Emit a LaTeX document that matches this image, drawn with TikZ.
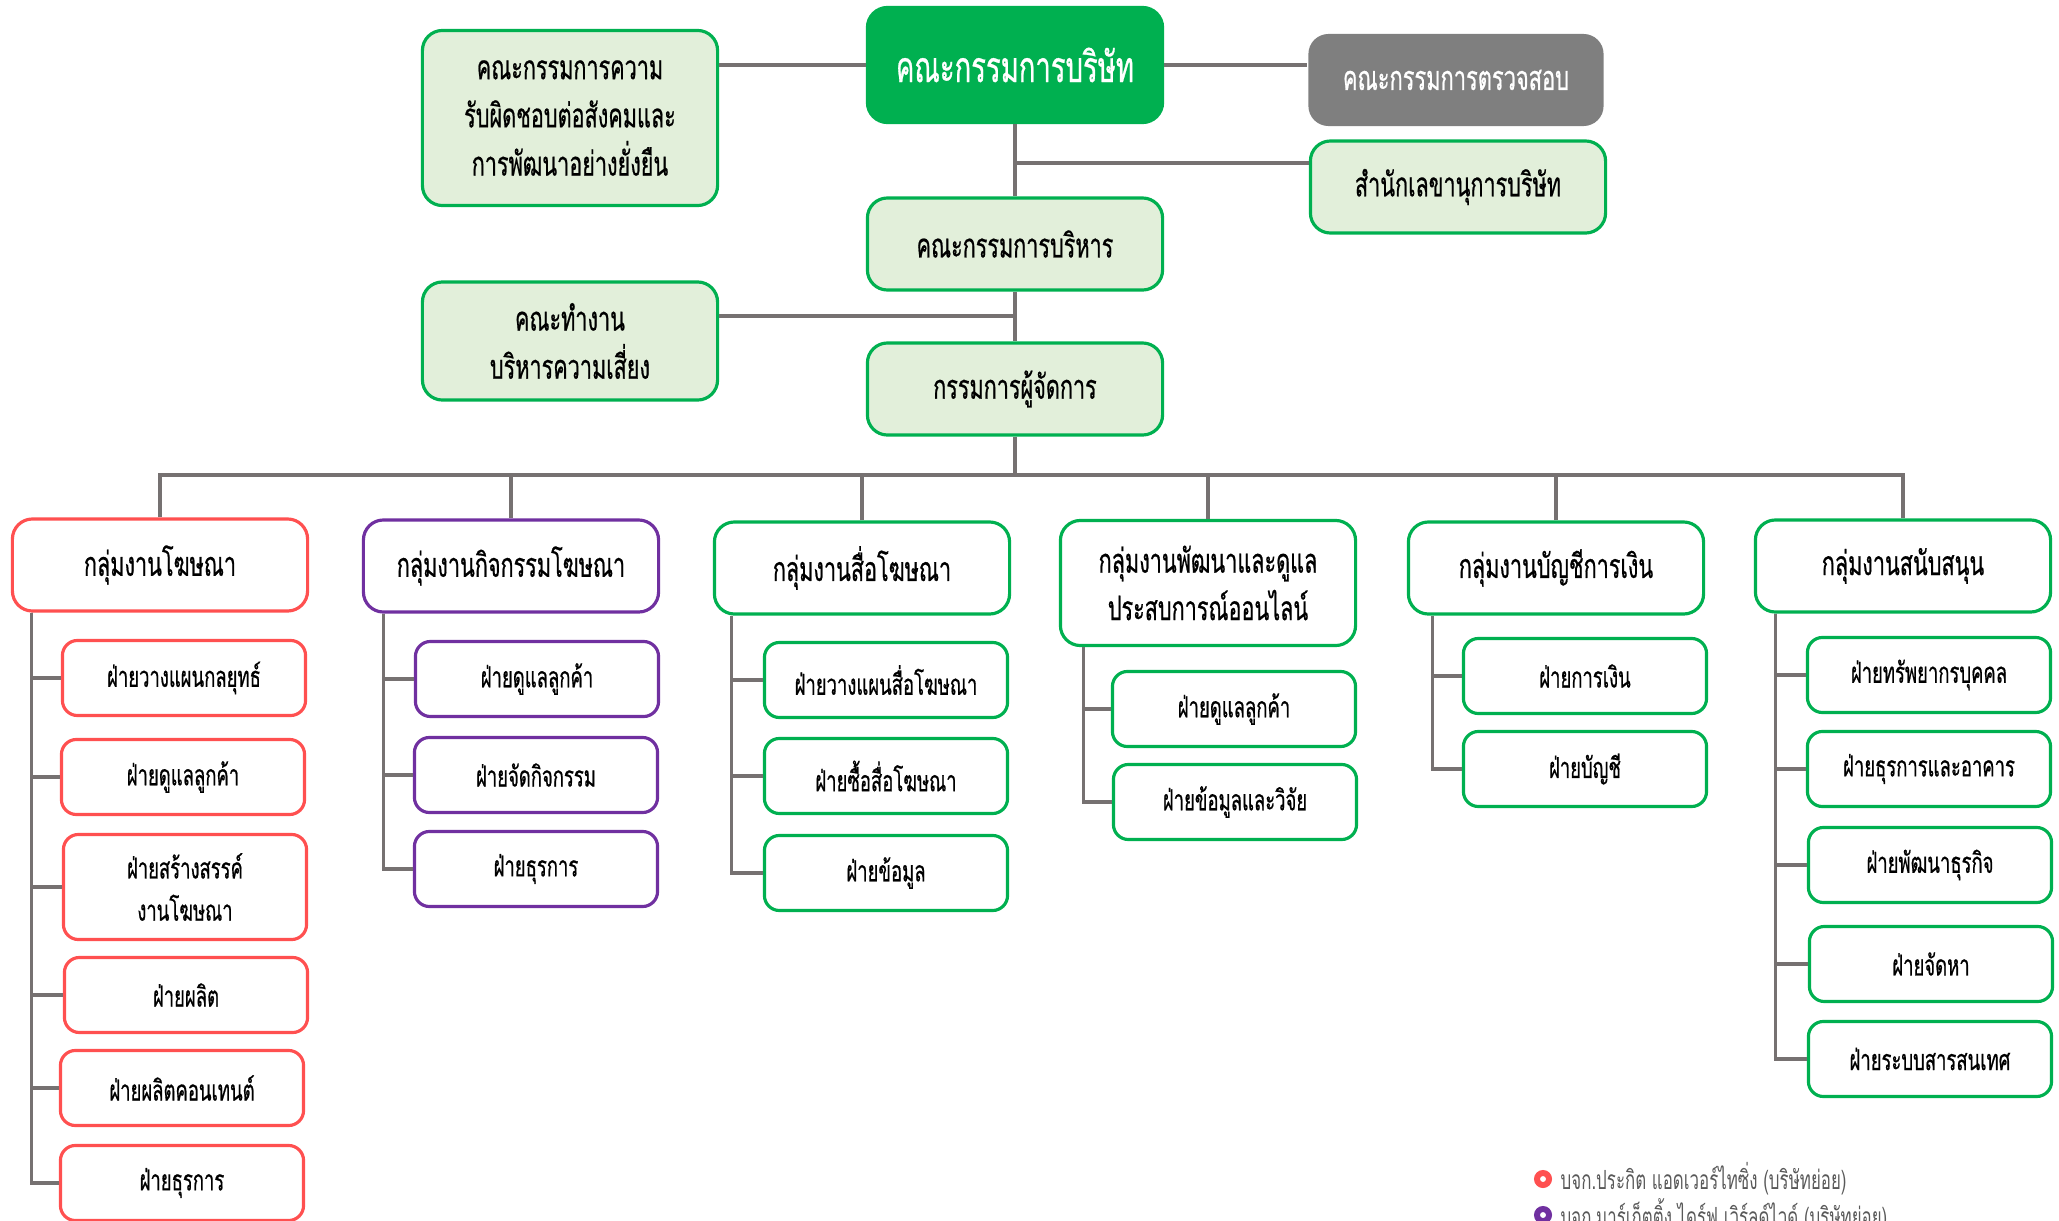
\documentclass[tikz,border=0pt]{standalone}
\usepackage{fontspec}
\newfontfamily\thaifont[Script=Thai,FakeStretch=0.64,FakeBold=0.6]{Loma}
\newfontfamily\thailight[Script=Thai,FakeStretch=0.64]{Loma}
\usetikzlibrary{positioning}
\definecolor{kgreen}{HTML}{00B050}
\definecolor{kpale}{HTML}{E2EFDA}
\definecolor{kred}{HTML}{FF5050}
\definecolor{kpurple}{HTML}{7030A0}
\definecolor{kgray}{HTML}{7F7F7F}
\definecolor{kline}{HTML}{767171}
\definecolor{ktext}{HTML}{595959}

\begin{document}
\begin{tikzpicture}[x=0.01cm,y=-0.01cm,
      topbox/.style={rectangle, rounded corners=0.2cm, draw=kgreen, fill=kpale, line width=0.9pt, minimum width=2.95cm, minimum height=0.92cm, align=center, font=\thaifont\fontsize{9.6}{13.7}\selectfont},
      group/.style={rectangle, rounded corners=0.2cm, draw=kgreen, fill=white, line width=0.9pt, minimum width=2.95cm, minimum height=0.92cm, align=center, font=\thaifont\fontsize{9.6}{13.5}\selectfont},
      dept/.style={rectangle, rounded corners=0.15cm, draw=kgreen, fill=white, line width=0.9pt, minimum width=2.43cm, minimum height=0.75cm, align=center, font=\thaifont\fontsize{8.2}{12}\selectfont},
      conn/.style={draw=kline, line width=0.9pt}]

\useasboundingbox (0,0) rectangle (2059,1221);

\node[topbox, fill=kgreen, minimum height=1.15cm, text=white, font=\thaifont\fontsize{12.2}{15}\selectfont] (board) at (1015,65) {คณะกรรมการบริษัท};
\node[topbox, minimum height=1.75cm] (csr) at (570,118) {คณะกรรมการความ\\รับผิดชอบต่อสังคมและ\\การพัฒนาอย่างยั่งยืน};
\node[topbox, draw=none, fill=kgray, text=white, font=\thaifont\fontsize{9.7}{13}\selectfont] (audit) at (1456,80) {คณะกรรมการตรวจสอบ};
\node[topbox] (secr) at (1458,187) {สำนักเลขานุการบริษัท};
\node[topbox] (exec) at (1015,244) {คณะกรรมการบริหาร};
\node[topbox, minimum height=1.18cm] (risk) at (570,341) {คณะทำงาน\\บริหารความเสี่ยง};
\node[topbox] (md) at (1015,389) {กรรมการผู้จัดการ};

\draw[conn] (board.west) -- (board.west -| csr.east);
\draw[conn] (board.east) -- (board.east -| audit.west);
\draw[conn] (board.south) -- (exec.north);
\draw[conn] (exec.south) -- (md.north);
\coordinate (secrjoin) at ([yshift=0.24cm]secr.west);
\draw[conn] (secrjoin) -- (secrjoin -| board.south);
\coordinate (riskjoin) at ([yshift=0.25cm]risk.east);
\draw[conn] (riskjoin) -- (riskjoin -| md.north);

\coordinate (bus) at (1015,475);
\draw[conn] (md.south) -- (bus);

\node[group, draw=kred] (g1) at (160,565) {กลุ่มงานโฆษณา};
\node[group, draw=kpurple] (g2) at (511,566) {กลุ่มงานกิจกรรมโฆษณา};
\node[group] (g3) at (862,568) {กลุ่มงานสื่อโฆษณา};
\node[group, minimum height=1.25cm] (g4) at (1208,583) {กลุ่มงานพัฒนาและดูแล\\ประสบการณ์ออนไลน์};
\node[group] (g5) at (1556,568) {กลุ่มงานบัญชีการเงิน};
\node[group] (g6) at (1903,566) {กลุ่มงานสนับสนุน};

\foreach \g in {g1,g2,g3,g4,g5,g6}
  \draw[conn, line width=1.3pt] (\g.north) |- (bus);

\node[dept, draw=kred] (s11) at (184,678) {ฝ่ายวางแผนกลยุทธ์};
\node[dept, draw=kred] (s12) at (183,777) {ฝ่ายดูแลลูกค้า};
\node[dept, draw=kred, minimum height=1.05cm] (s13) at (185,887) {ฝ่ายสร้างสรรค์\\งานโฆษณา};
\node[dept, draw=kred] (s14) at (186,995) {ฝ่ายผลิต};
\node[dept, draw=kred] (s15) at (182,1088) {ฝ่ายผลิตคอนเทนต์};
\node[dept, draw=kred] (s16) at (182,1183) {ฝ่ายธุรการ};

\node[dept, draw=kpurple] (s21) at (537,679) {ฝ่ายดูแลลูกค้า};
\node[dept, draw=kpurple] (s22) at (536,775) {ฝ่ายจัดกิจกรรม};
\node[dept, draw=kpurple] (s23) at (536,869) {ฝ่ายธุรการ};

\node[dept] (s31) at (886,680) {ฝ่ายวางแผนสื่อโฆษณา};
\node[dept] (s32) at (886,776) {ฝ่ายซื้อสื่อโฆษณา};
\node[dept] (s33) at (886,873) {ฝ่ายข้อมูล};

\node[dept] (s41) at (1234,709) {ฝ่ายดูแลลูกค้า};
\node[dept] (s42) at (1235,802) {ฝ่ายข้อมูลและวิจัย};

\node[dept] (s51) at (1585,676) {ฝ่ายการเงิน};
\node[dept] (s52) at (1585,769) {ฝ่ายบัญชี};

\node[dept] (s61) at (1929,675) {ฝ่ายทรัพยากรบุคคล};
\node[dept] (s62) at (1929,769) {ฝ่ายธุรการและอาคาร};
\node[dept] (s63) at (1930,865) {ฝ่ายพัฒนาธุรกิจ};
\node[dept] (s64) at (1931,964) {ฝ่ายจัดหา};
\node[dept] (s65) at (1930,1059) {ฝ่ายระบบสารสนเทศ};

\coordinate (t1) at ([xshift=0.21cm]g1.south west);
\coordinate (t2) at ([xshift=0.22cm]g2.south west);
\coordinate (t3) at ([xshift=0.19cm]g3.south west);
\coordinate (t4) at ([xshift=0.25cm]g4.south west);
\coordinate (t5) at ([xshift=0.26cm]g5.south west);
\coordinate (t6) at ([xshift=0.22cm]g6.south west);
\foreach \s in {s11,s12,s13,s14,s15,s16}
  \draw[conn] (t1) |- (\s.west);
\foreach \s in {s21,s22,s23}
  \draw[conn] (t2) |- (\s.west);
\foreach \s in {s31,s32,s33}
  \draw[conn] (t3) |- (\s.west);
\foreach \s in {s41,s42}
  \draw[conn] (t4) |- (\s.west);
\foreach \s in {s51,s52}
  \draw[conn] (t5) |- (\s.west);
\foreach \s in {s61,s62,s63,s64,s65}
  \draw[conn] (t6) |- (\s.west);

\node[circle, draw=kred, fill=white, line width=1.7pt, minimum size=0.12cm, inner sep=0pt] (dot1) at (1543,1179) {};
\node[right=0.08cm of dot1, inner sep=0pt, text=ktext, font=\thailight\fontsize{7.5}{10}\selectfont] (leg1) {บจก.ประกิต แอดเวอร์ไทซิ่ง (บริษัทย่อย)};
\node[circle, draw=kpurple, fill=white, line width=1.7pt, minimum size=0.12cm, inner sep=0pt] (dot2) at (1543,1215) {};
\node[right=0.08cm of dot2, inner sep=0pt, text=ktext, font=\thailight\fontsize{7.5}{10}\selectfont] (leg2) {บจก.มาร์เก็ตติ้ง ไดร์ฟ เวิร์ลด์ไวด์ (บริษัทย่อย)};

\end{tikzpicture}
\end{document}
